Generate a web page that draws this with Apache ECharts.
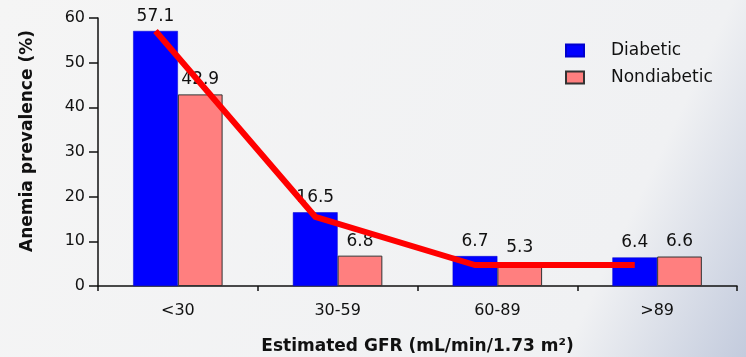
<!DOCTYPE html>
<html>
<head>
<meta charset="utf-8">
<script src="https://cdn.jsdelivr.net/npm/echarts@6/dist/echarts.min.js"></script>
<style>html,body{margin:0;padding:0;}#c{width:746px;height:357px;}</style>
</head>
<body>
<div id="c"></div>
<script>
const categories = ['<30', '30-59', '60-89', '>89'];
const diabetic = [57.1, 16.5, 6.7, 6.4];
const nondiabetic = [42.9, 6.8, 5.3, 6.6];
const trendLine = [57.1, 15.5, 4.7, 4.7];
const yTicks = { min: 0, max: 60, interval: 10 };

const BAR_FRAC = 0.28;
const chart = echarts.init(document.getElementById('c'), null, { renderer: 'canvas' });
const font = '"DejaVu Sans", "Liberation Sans", Arial, sans-serif';

chart.setOption({
  backgroundColor: new echarts.graphic.LinearGradient(0, 0, 1, 1, [
    { offset: 0, color: '#f5f5f5' },
    { offset: 0.8, color: '#f0f1f3' },
    { offset: 1, color: '#c3cbdd' }
  ]),
  textStyle: { fontFamily: font },
  grid: { left: 98, right: 9, top: 18, bottom: 71, containLabel: false, outerBoundsMode: 'none' },
  legend: {
    orient: 'vertical',
    left: 560,
    top: 37,
    itemWidth: 18,
    itemHeight: 12,
    itemGap: 10,
    textStyle: { fontFamily: font, fontSize: 17, color: '#111', padding: [0, 0, 0, 22] },
    data: [
      { name: 'Diabetic', icon: 'rect' },
      { name: 'Nondiabetic', icon: 'rect' }
    ]
  },
  xAxis: {
    type: 'category',
    data: categories,
    name: 'Estimated GFR (mL/min/1.73 m²)',
    nameLocation: 'middle',
    nameGap: 52,
    nameTextStyle: { fontFamily: font, fontSize: 17, fontWeight: 'bold', color: '#111' },
    axisLine: { lineStyle: { color: '#111', width: 1.5 } },
    axisTick: { show: true, length: 5, lineStyle: { color: '#111', width: 1.5 } },
    axisLabel: { fontFamily: font, fontSize: 16, color: '#111', margin: 17 }
  },
  yAxis: {
    type: 'value',
    min: yTicks.min,
    max: yTicks.max,
    interval: yTicks.interval,
    name: 'Anemia prevalence (%)',
    nameLocation: 'middle',
    nameGap: 62,
    nameTextStyle: { fontFamily: font, fontSize: 17, fontWeight: 'bold', color: '#111', padding: [0, 0, 0, 22] },
    splitLine: { show: false },
    axisLine: { show: true, lineStyle: { color: '#111', width: 1.5 } },
    axisTick: { show: true, length: 9, lineStyle: { color: '#111', width: 1.5 } },
    axisLabel: { fontFamily: font, fontSize: 16, color: '#111', margin: 13 }
  },
  series: [
    {
      name: 'Diabetic',
      type: 'bar',
      data: diabetic,
      barWidth: (BAR_FRAC * 100) + '%',
      barGap: '0%',
      itemStyle: { color: '#0000ff', borderColor: '#0000cc', borderWidth: 0.5 },
      label: { show: true, position: 'top', distance: 6, fontFamily: font, fontSize: 17, color: '#111' }
    },
    {
      name: 'Nondiabetic',
      type: 'bar',
      data: nondiabetic,
      barWidth: (BAR_FRAC * 100) + '%',
      barGap: '0%',
      itemStyle: { color: '#ff7f7f', borderColor: '#333', borderWidth: 1 },
      label: { show: true, position: 'top', distance: 6, fontFamily: font, fontSize: 17, color: '#111' }
    },
    {
      name: 'trend',
      type: 'custom',
      data: trendLine.map((v, i) => [i, v]),
      z: 10,
      renderItem: function (params, api) {
        if (params.dataIndex !== 0) return null;
        const shift = api.size([1, 0])[0] * BAR_FRAC / 2;
        const pts = trendLine.map((v, i) => {
          const p = api.coord([i, v]);
          return [p[0] - shift, p[1]];
        });
        return {
          type: 'polyline',
          shape: { points: pts },
          style: { stroke: '#ff0000', lineWidth: 6, fill: null, lineJoin: 'miter' }
        };
      }
    }
  ]
});
</script>
</body>
</html>
